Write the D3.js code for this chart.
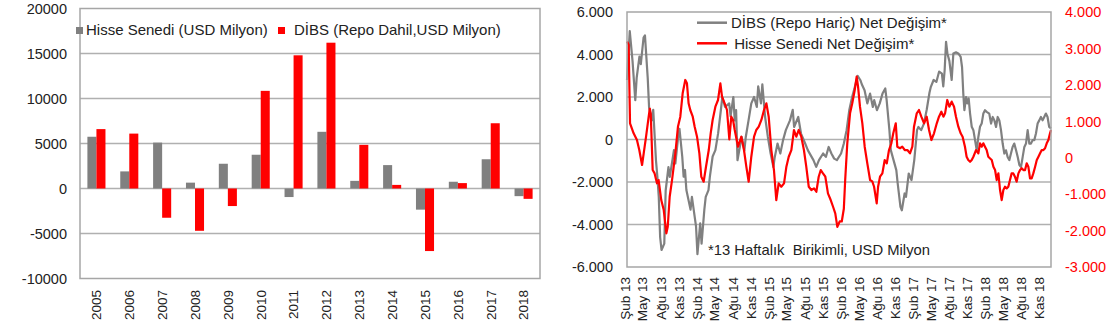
<!DOCTYPE html>
<html><head><meta charset="utf-8">
<script src="https://cdn.jsdelivr.net/npm/d3@7/dist/d3.min.js"></script>
<style>
html,body{margin:0;padding:0;background:#fff;}
svg text{font-family:"Liberation Sans",Arial,sans-serif;fill:#222;}
</style></head>
<body><svg id="c" width="1110" height="328"></svg>
<script>
// ---------- DATA ----------
const years = ["2005","2006","2007","2008","2009","2010","2011","2012","2013","2014","2015","2016","2017","2018"];
const hisseYearly = [5750,1900,5100,650,2750,3750,-950,6300,850,2600,-2350,750,3250,-850];
const dibsYearly  = [6600,6100,-3250,-4700,-1950,10850,14800,16200,4850,400,-6950,600,7250,-1150];
const leftTicks = [-10000,-5000,0,5000,10000,15000,20000];
const barLegend = ["Hisse Senedi (USD Milyon)","DİBS (Repo Dahil,USD Milyon)"];

const quarterLabels = ["Şub 13","May 13","Ağu 13","Kas 13","Şub 14","May 14","Ağu 14","Kas 14",
  "Şub 15","May 15","Ağu 15","Kas 15","Şub 16","May 16","Ağu 16","Kas 16",
  "Şub 17","May 17","Ağu 17","Kas 17","Şub 18","May 18","Ağu 18","Kas 18"];
const leftLineTicks = [-6000,-4000,-2000,0,2000,4000,6000];
const rightLineTicks = [-3000,-2000,-1000,0,1000,2000,3000,4000];
const lineLegend = ["DİBS (Repo Hariç) Net Değişim*"," Hisse Senedi Net Değişim*"];
const note = "*13 Haftalık  Birikimli, USD Milyon";

// [week since 1 Feb 2013, value]
const dibsWeekly = [[0,2800],[2,5100],[4,3700],[6,1850],[7,2900],[9,3900],[10,3550],[12,4800],[13,4900],[15,2900],[16,1500],[18,900],[19,1400],[21,-1000],[22,-1760],[23,-2700],[24,-4600],[25,-5200],[27,-4900],[28,-2400],[30,-1300],[31,-1760],[34,-500],[35,-1130],[37,100],[38,500],[40,-800],[41,-1750],[42,-1440],[43,-2380],[46,-3300],[47,-2700],[50,-4100],[51,-5400],[53,-3950],[54,-4900],[56,-3300],[57,-2700],[59,-2380],[60,-1750],[62,-800],[64,-500],[66,300],[68,1400],[69,2000],[71,1530],[74,1700],[75,1100],[77,2000],[78,900],[79,1380],[80,-975],[83,120],[85,-510],[86,120],[88,900],[90,1700],[92,2000],[94,1530],[95,2500],[97,1700],[98,2600],[100,1060],[102,120],[104,-660],[106,-1290],[107,-820],[109,-190],[111,-660],[113,-30],[115,440],[118,900],[120,1400],[121,590],[124,1060],[126,280],[129,-190],[131,-510],[135,-970],[137,-1290],[139,-970],[142,-660],[144,-820],[146,-350],[148,-660],[150,-900],[152,-970],[155,-660],[157,-190],[159,440],[161,1400],[163,2000],[165,2480],[167,3000],[169,2790],[170,2600],[172,2320],[174,1700],[176,2160],[178,1530],[179,1850],[181,1380],[183,1700],[185,2160],[187,2400],[188,1850],[190,440],[191,-500],[193,-970],[195,-1440],[196,-2070],[198,-3170],[199,-3330],[201,-2540],[202,-2700],[204,-1600],[206,-1910],[208,-970],[210,440],[211,590],[213,440],[215,750],[217,1400],[219,2200],[220,2480],[222,2800],[224,2710],[226,3200],[228,3100],[229,2500],[230,3260],[231,4600],[232,4050],[233.4,3700],[235.1,2800],[236.3,4050],[238.2,4100],[239.9,4050],[241.6,3890],[242.6,3400],[243.5,2160],[244.3,1380],[245.5,2000],[246.4,1700],[247.4,1930],[248.4,1220],[249.6,600],[250.8,440],[252,-30],[253.2,-500],[254.4,120],[255.6,600],[256.8,750],[258,1220],[259.2,1380],[260.4,1300],[262.3,1220],[263.6,750],[264.8,1060],[266,900],[267.2,590],[268.4,1060],[269.6,900],[270.8,440],[272,-190],[273.2,-660],[274.4,-510],[275.6,-820],[276.8,-970],[278,-660],[279.2,-350],[280.4,-190],[281.7,-510],[282.9,-820],[284.1,-1200],[285.3,-1290],[286.5,-820],[287.7,-350],[288.9,-190],[290.1,440],[291.3,-190],[292.5,-190],[293.7,-30],[294.9,-30],[296.1,280],[297.3,750],[298.5,900],[299.7,1060],[300.9,900],[302.1,1060],[303.3,1220],[304.5,1060],[305.7,590],[307,520]];

const hisseWeekly = [[0,3190],[1.2,3100],[2.2,945],[4.8,670],[7.2,486],[8.9,211],[10.9,-200],[12.1,121],[13.8,577],[15.7,1126],[16.5,1350],[17.2,1200],[18.6,-338],[20,-430],[21.7,-703],[22.9,-613],[24.8,-1162],[26.6,-1437],[28.5,-2077],[29.5,-1895],[30.9,-1071],[32.6,-613],[35,121],[36.9,852],[38.6,1126],[40.3,1769],[42.2,2134],[43.4,2043],[44.6,1494],[45.8,1310],[47.6,1126],[49,852],[50.7,577],[52.4,121],[53.8,-522],[55.5,-659],[57.2,-247],[59.2,211],[60.6,670],[62,1036],[64,1401],[65.9,1585],[67.6,2043],[68.8,1676],[70.7,1494],[72.4,1310],[74.1,500],[75.5,1126],[76.8,1036],[78,761],[80.4,302],[82.8,577],[84.7,211],[86.4,-247],[88.1,-659],[90,27],[92,577],[93.6,761],[95.4,852],[97.3,1036],[99.2,1310],[100.9,1494],[102.6,1126],[104.5,211],[106.4,-338],[108.1,-1162],[109.8,-703],[111.7,-797],[113.7,-703],[115.4,-247],[117.1,27],[119,211],[120.9,761],[122.6,577],[124.3,761],[126.2,577],[128.1,211],[129.8,-247],[131.6,-797],[133.5,-887],[135.4,-842],[137.1,-934],[138.8,-522],[140.3,-338],[141.9,-430],[143.6,-522],[145.5,-978],[147.5,-1162],[149.2,-1346],[150.8,-1529],[152.3,-1900],[154,-1750],[155.5,-1750],[157,-1400],[158,-600],[159.5,396],[161.5,1219],[163.1,1494],[164.9,1860],[166.3,2225],[167.3,1950],[168.7,1401],[170.4,945],[172.1,302],[174,-155],[176,-613],[177.6,-650],[178.9,-797],[180.8,-1253],[181.8,-797],[183.2,-522],[184.9,-430],[186.6,-63],[188.1,-155],[189.7,211],[191.4,396],[192.8,670],[194.6,945],[195.7,302],[197.7,260],[199.3,302],[201.1,211],[203,211],[204.9,121],[206.6,302],[207.8,852],[209.8,1219],[211.4,1310],[213.1,1126],[215.1,945],[217,1126],[218.7,761],[220.4,486],[222.3,670],[224.3,945],[225.9,1126],[227.6,1264],[229.1,1126],[230.3,1219],[231.9,1585],[233.4,1401],[235.1,1540],[236.8,1401],[238.2,1126],[239.9,852],[241.6,670],[243,577],[244.7,302],[245.9,27],[247.1,-63],[248.4,-110],[249.6,-63],[250.8,27],[252.7,211],[254.4,121],[255.6,396],[256.8,302],[258,396],[259.2,302],[260.4,211],[261.6,27],[262.9,-20],[264.1,-63],[265.3,-247],[266.5,-338],[267.7,-613],[268.9,-430],[270.1,-887],[271.3,-1162],[272.5,-887],[273.7,-797],[274.9,-842],[276.1,-797],[277.3,-613],[278.5,-430],[279.7,-430],[280.9,-522],[282.1,-659],[283.4,-430],[284.6,-338],[285.8,-290],[287,-338],[288.2,-338],[289.4,-155],[290.6,-247],[291.8,-567],[293,-567],[294.2,-430],[295.5,-247],[296.7,-63],[297.9,27],[299.1,121],[300.3,211],[301.5,211],[302.7,260],[303.9,396],[305.1,486],[306.3,670],[307,760]];

// ---------- RENDER ----------
const svg = d3.select("#c");
const GRID = "#b0b0b0", FRAME = "#a6a6a6", GRAY = "#808080", RED = "#ff0000";
const loc = d3.formatLocale({decimal:",",thousands:".",grouping:[3],currency:["","₺"],minus:"-"});
const fmtPlain = loc.format("d"), fmtTR = loc.format(",d");

// ===== Left: bar chart =====
const L = {x0:80, x1:540, y0:8.5, y1:278.5};
const yL = d3.scaleLinear().domain([-10000,20000]).range([L.y1,L.y0]);
const xL = d3.scaleBand().domain(years).range([L.x0,L.x1]).paddingInner(0.45).paddingOuter(0.225);
const xSub = d3.scaleBand().domain(["h","d"]).range([0,xL.bandwidth()]);
const gL = svg.append("g");
gL.selectAll("line.grid").data(leftTicks.filter(t=>t>-10000&&t<20000)).join("line")
  .attr("x1",L.x0).attr("x2",L.x1).attr("y1",d=>yL(d)).attr("y2",d=>yL(d))
  .attr("stroke",GRID).attr("stroke-width",1.4);
const bars = years.map((y,i)=>({y, h:hisseYearly[i], d:dibsYearly[i]}));
gL.selectAll("rect.h").data(bars).join("rect")
  .attr("x",d=>xL(d.y)+xSub("h")).attr("width",xSub.bandwidth())
  .attr("y",d=>yL(Math.max(0,d.h))).attr("height",d=>Math.abs(yL(d.h)-yL(0)))
  .attr("fill",GRAY);
gL.selectAll("rect.d").data(bars).join("rect")
  .attr("x",d=>xL(d.y)+xSub("d")).attr("width",xSub.bandwidth())
  .attr("y",d=>yL(Math.max(0,d.d))).attr("height",d=>Math.abs(yL(d.d)-yL(0)))
  .attr("fill",RED);
gL.append("rect").attr("x",L.x0).attr("y",L.y0).attr("width",L.x1-L.x0).attr("height",L.y1-L.y0)
  .attr("fill","none").attr("stroke",FRAME).attr("stroke-width",1.5);
gL.selectAll("text.yt").data(leftTicks).join("text")
  .attr("x",67).attr("y",d=>yL(d)).attr("dy","0.36em").attr("text-anchor","end")
  .attr("font-size",14.5).text(d=>fmtPlain(d));
gL.selectAll("text.xt").data(years).join("text")
  .attr("transform",d=>`translate(${xL(d)+xL.bandwidth()/2},290) rotate(-90)`)
  .attr("dy","0.36em").attr("text-anchor","end").attr("font-size",13.5).text(d=>d);
// legend
gL.append("rect").attr("x",76).attr("y",27).attr("width",7).attr("height",7).attr("fill",GRAY);
gL.append("text").attr("x",86).attr("y",35).attr("font-size",15).text(barLegend[0]);
gL.append("rect").attr("x",278).attr("y",27).attr("width",7).attr("height",7).attr("fill",RED);
gL.append("text").attr("x",294).attr("y",35).attr("font-size",15).text(barLegend[1]);

// ===== Right: line chart =====
const R = {x0:627, x1:1051, y0:12, y1:267};
const start = new Date(2013,1,1);
const dateOf = w => new Date(start.getTime() + w*7*864e5);
const xR = d3.scaleTime().domain([start, dateOf(307)]).range([R.x0,R.x1]);
const yR1 = d3.scaleLinear().domain([-6000,6000]).range([R.y1,R.y0]);
const yR2 = d3.scaleLinear().domain([-3000,4000]).range([R.y1,R.y0]);
const gR = svg.append("g");
gR.selectAll("line.grid").data(leftLineTicks.filter(t=>t>-6000&&t<6000)).join("line")
  .attr("x1",R.x0).attr("x2",R.x1).attr("y1",d=>yR1(d)).attr("y2",d=>yR1(d))
  .attr("stroke",GRID).attr("stroke-width",1.4);
gR.append("path").datum(dibsWeekly)
  .attr("d",d3.line().x(d=>xR(dateOf(d[0]))).y(d=>yR1(d[1])))
  .attr("fill","none").attr("stroke",GRAY).attr("stroke-width",2.2).attr("stroke-linejoin","round");
gR.append("path").datum(hisseWeekly)
  .attr("d",d3.line().x(d=>xR(dateOf(d[0]))).y(d=>yR2(d[1])))
  .attr("fill","none").attr("stroke",RED).attr("stroke-width",2.2).attr("stroke-linejoin","round");
gR.append("rect").attr("x",R.x0).attr("y",R.y0).attr("width",R.x1-R.x0).attr("height",R.y1-R.y0)
  .attr("fill","none").attr("stroke",FRAME).attr("stroke-width",1.5);
gR.selectAll("text.yl").data(leftLineTicks).join("text")
  .attr("x",613).attr("y",d=>yR1(d)).attr("dy","0.36em").attr("text-anchor","end")
  .attr("font-size",14.5).text(d=>fmtTR(d));
gR.selectAll("text.yr").data(rightLineTicks).join("text")
  .attr("x",1065).attr("y",d=>yR2(d)).attr("dy","0.36em").attr("text-anchor","start")
  .attr("font-size",14.5).style("fill",RED).text(d=>fmtTR(d));
const tickDates = quarterLabels.map((s,i)=>new Date(2013+Math.floor(i/4), 1+3*(i%4), 1));
gR.selectAll("text.xt").data(quarterLabels).join("text")
  .attr("transform",(d,i)=>`translate(${xR(tickDates[i])-2},277) rotate(-90)`)
  .attr("dy","0.36em").attr("text-anchor","end").attr("font-size",13.5).text(d=>d);
// legend
gR.append("line").attr("x1",697).attr("x2",727).attr("y1",22.7).attr("y2",22.7).attr("stroke",GRAY).attr("stroke-width",2.5);
gR.append("text").attr("x",731).attr("y",27.7).attr("font-size",15).text(lineLegend[0]);
gR.append("line").attr("x1",697).attr("x2",727).attr("y1",43.3).attr("y2",43.3).attr("stroke",RED).attr("stroke-width",2.5);
gR.append("text").attr("x",730).attr("y",49).attr("font-size",15).style("white-space","pre").text(lineLegend[1]);
gR.append("text").attr("x",708).attr("y",255).attr("font-size",14.8).style("white-space","pre").text(note);
</script></body></html>
